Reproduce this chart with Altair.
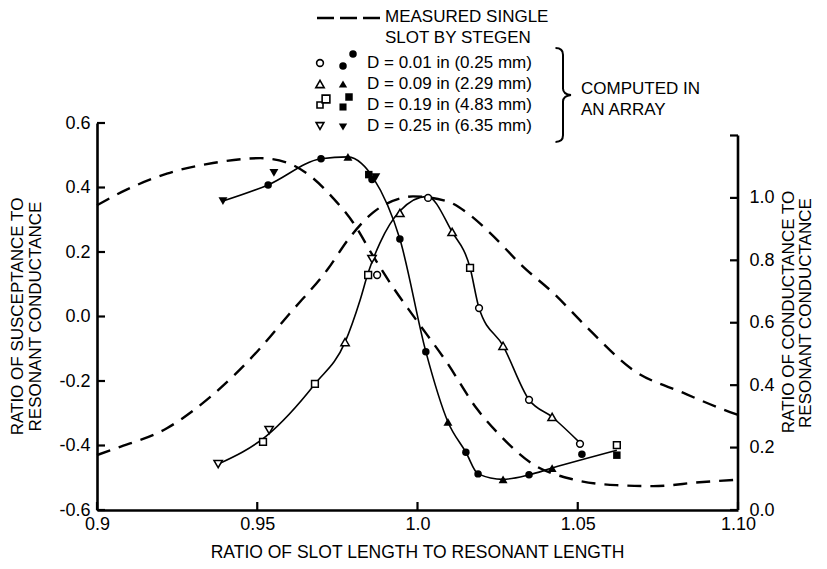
import json
import altair as alt
import pandas as pd

# ---------------- data ----------------
x_ticks = [0.9, 0.95, 1.0, 1.05, 1.10]
x_tick_labels = ["0.9", "0.95", "1.0", "1.05", "1.10"]
left_ticks = [-0.6, -0.4, -0.2, 0.0, 0.2, 0.4, 0.6]
right_ticks = [0.0, 0.2, 0.4, 0.6, 0.8, 1.0, 1.2]
right_labels = [0.0, 0.2, 0.4, 0.6, 0.8, 1.0]

# measured single slot (Stegen) - susceptance (left axis)
meas_b_x = [0.900, 0.9094, 0.9218, 0.9362, 0.951, 0.9593, 0.9665, 0.9736, 0.980,
            0.986, 0.9924, 0.9992, 1.009, 1.0186, 1.0257, 1.036, 1.0485, 1.062,
            1.0735, 1.088, 1.100]
meas_b_y = [0.345, 0.394, 0.443, 0.476, 0.491, 0.477, 0.436, 0.368, 0.290,
            0.190, 0.090, -0.005, -0.140, -0.287, -0.368, -0.458, -0.505, -0.523,
            -0.526, -0.514, -0.506]

# measured single slot (Stegen) - conductance (right axis)
meas_g_x = [0.900, 0.906, 0.9218, 0.936, 0.950, 0.960, 0.9718, 0.979, 0.986,
            0.9945, 0.9986, 1.009, 1.0155, 1.0226, 1.033, 1.0423, 1.0529, 1.0672,
            1.083, 1.0975, 1.100]
meas_g_y = [0.176, 0.198, 0.262, 0.368, 0.508, 0.628, 0.769, 0.875, 0.952,
            0.998, 1.005, 0.990, 0.952, 0.888, 0.779, 0.696, 0.585, 0.449,
            0.375, 0.314, 0.305]

# computed in an array - conductance curve (right axis)
comp_g_x = [0.9378, 0.9528, 0.968, 0.9774, 0.9821, 0.9846, 0.9883, 0.9945, 1.0030,
            1.0108, 1.0164, 1.0192, 1.0267, 1.0348, 1.042, 1.0507]
comp_g_y = [0.147, 0.237, 0.404, 0.538, 0.673, 0.760, 0.856, 0.958, 1.005,
            0.891, 0.776, 0.647, 0.526, 0.353, 0.298, 0.215]

# computed in an array - susceptance curve (left axis)
comp_b_x = [0.9393, 0.9534, 0.9699, 0.9783, 0.9825, 0.9862, 0.9945, 1.0026, 1.0095,
            1.0151, 1.0189, 1.0267, 1.0348, 1.042, 1.0622]
comp_b_y = [0.358, 0.408, 0.489, 0.495, 0.475, 0.430, 0.240, -0.109, -0.327,
            -0.421, -0.488, -0.505, -0.491, -0.470, -0.415]

# open symbols (conductance, right axis)
open_x = [0.9378, 0.9518, 0.9537, 0.968, 0.9774, 0.9846, 0.9874, 0.9858, 0.9945,
          1.0033, 1.0108, 1.0164, 1.0192, 1.0267, 1.0348, 1.042, 1.0507, 1.0622]
open_y = [0.147, 0.218, 0.256, 0.404, 0.538, 0.753, 0.753, 0.804, 0.952,
          1.000, 0.891, 0.776, 0.647, 0.526, 0.353, 0.298, 0.212, 0.208]
open_d = ["0.25", "0.19", "0.25", "0.19", "0.09", "0.19", "0.01", "0.25", "0.09",
          "0.01", "0.09", "0.19", "0.01", "0.09", "0.01", "0.09", "0.01", "0.19"]

# filled symbols (susceptance, left axis)
fill_x = [0.9393, 0.9534, 0.9552, 0.9699, 0.9783, 0.9848, 0.9858, 0.9870, 0.9945,
          1.0026, 1.0095, 1.0151, 1.0189, 1.0267, 1.0348, 1.042, 1.0513, 1.0622]
fill_y = [0.358, 0.408, 0.445, 0.489, 0.495, 0.440, 0.425, 0.432, 0.240,
          -0.109, -0.327, -0.421, -0.488, -0.505, -0.491, -0.470, -0.427, -0.430]
fill_d = ["0.25", "0.01", "0.25", "0.01", "0.09", "0.19", "0.01", "0.25", "0.01",
          "0.01", "0.09", "0.01", "0.01", "0.09", "0.01", "0.09", "0.01", "0.19"]

d_values = ["0.01", "0.09", "0.19", "0.25"]
d_labels = ["D = 0.01 in (0.25 mm)", "D = 0.09 in (2.29 mm)",
            "D = 0.19 in (4.83 mm)", "D = 0.25 in (6.35 mm)"]
d_shapes = ["circle", "triangle-up", "square", "triangle-down"]
d_sizes = [46, 70, 46, 70]

measured_text = ["MEASURED SINGLE", "SLOT BY STEGEN"]
computed_text = ["COMPUTED IN", "AN ARRAY"]
x_title = "RATIO OF SLOT LENGTH TO RESONANT LENGTH"
left_title = ["RATIO OF SUSCEPTANCE TO", "RESONANT CONDUCTANCE"]
right_title = ["RATIO OF CONDUCTANCE TO", "RESONANT CONDUCTANCE"]

# ---------------- layout / style ----------------
W, H = 641, 387
FONT = "Liberation Sans"
FS = 17
size_of = dict(zip(d_values, d_sizes))

xsc = alt.Scale(domain=[0.9, 1.1], nice=False, zero=False)
ylsc = alt.Scale(domain=[-0.6, 0.6], nice=False, zero=False)
yrsc = alt.Scale(domain=[0.0, 1.24], nice=False, zero=False)

x_label_expr = "{}[indexof({}, datum.value)]".format(json.dumps(x_tick_labels), json.dumps(x_ticks))
X = alt.X("x:Q", scale=xsc, axis=alt.Axis(
    values=x_ticks, labelExpr=x_label_expr, ticks=False, grid=False,
    domainColor="black", domainWidth=2.6, labelFont=FONT, labelFontSize=18,
    labelColor="black", labelPadding=5, labelFlush=False, title=None))
XN = alt.X("x:Q", scale=xsc, axis=None)
YL = alt.Y("y:Q", scale=ylsc, axis=alt.Axis(
    orient="left", values=left_ticks,
    labelExpr="replace(format(datum.value, '.1f'), '\u2212', '-')",
    ticks=False, grid=False, domainColor="black", domainWidth=2.6,
    labelFont=FONT, labelFontSize=18, labelColor="black", labelPadding=7, title=None))
YR = alt.Y("y:Q", scale=yrsc, axis=alt.Axis(
    orient="right", values=right_labels, format=".1f", ticks=False, domain=False,
    grid=False, labelFont=FONT, labelFontSize=18, labelColor="black",
    labelPadding=11, title=None))
SHP = alt.Shape("d:N", scale=alt.Scale(domain=d_values, range=d_shapes), legend=None)
SZ = alt.Size("sz:Q", scale=None)

dash = [14, 9]

# ---------------- left (susceptance) group ----------------
meas_b = pd.DataFrame({"x": meas_b_x, "y": meas_b_y})
comp_b = pd.DataFrame({"x": comp_b_x, "y": comp_b_y})
fill_pts = pd.DataFrame({"x": fill_x, "y": fill_y, "d": fill_d,
                         "sz": [size_of[d] + 10 for d in fill_d]})

l_meas = alt.Chart(meas_b).mark_line(color="black", strokeWidth=2.4, strokeDash=dash,
                                     interpolate="monotone").encode(x=X, y=YL)
l_comp = alt.Chart(comp_b).mark_line(color="black", strokeWidth=1.6,
                                     interpolate="monotone").encode(x=X, y=YL)
l_pts = alt.Chart(fill_pts).mark_point(filled=True, color="black", opacity=1).encode(
    x=X, y=YL, shape=SHP, size=SZ)
l_ticks = alt.Chart(pd.DataFrame({"y": left_ticks})).mark_rule(
    color="black", strokeWidth=2.2).encode(y=YL, x=alt.value(0), x2=alt.value(8))
b_ticks = alt.Chart(pd.DataFrame({"x": x_ticks})).mark_rule(
    color="black", strokeWidth=2.2).encode(x=X, y=alt.value(H), y2=alt.value(H - 8))
left_group = alt.layer(l_meas, l_comp, l_pts, l_ticks, b_ticks)

# ---------------- right (conductance) group ----------------
meas_g = pd.DataFrame({"x": meas_g_x, "y": meas_g_y})
comp_g = pd.DataFrame({"x": comp_g_x, "y": comp_g_y})
open_pts = pd.DataFrame({"x": open_x, "y": open_y, "d": open_d,
                         "sz": [size_of[d] for d in open_d]})

r_meas = alt.Chart(meas_g).mark_line(color="black", strokeWidth=2.4, strokeDash=dash,
                                     interpolate="monotone").encode(x=XN, y=YR)
r_comp = alt.Chart(comp_g).mark_line(color="black", strokeWidth=1.6,
                                     interpolate="monotone").encode(x=XN, y=YR)
r_pts = alt.Chart(open_pts).mark_point(filled=True, fill="white", stroke="black",
                                       strokeWidth=1.5, opacity=1).encode(
    x=XN, y=YR, shape=SHP, size=SZ)
r_axis = alt.Chart(pd.DataFrame({"y": [right_ticks[0]], "y2": [right_ticks[-1]]})).mark_rule(
    color="black", strokeWidth=2.6).encode(x=alt.value(W), y=YR, y2="y2:Q")
r_ticks = alt.Chart(pd.DataFrame({"y": right_ticks})).mark_rule(
    color="black", strokeWidth=2.2).encode(y=YR, x=alt.value(W - 8), x2=alt.value(W))
right_group = alt.layer(r_meas, r_comp, r_pts, r_axis, r_ticks)

# ---------------- annotations (titles, legend) ----------------
PX = alt.X("px:Q", scale=None)
PY = alt.Y("py:Q", scale=None)

row_y = [-60, -39, -18, 3]
texts = pd.DataFrame({
    "text": measured_text + d_labels + computed_text,
    "px": [288, 288] + [270] * 4 + [484, 484],
    "py": [-106, -85] + row_y + [-34, -13],
})
a_text = alt.Chart(texts).mark_text(align="left", baseline="middle", font=FONT,
                                    fontSize=FS, color="black").encode(x=PX, y=PY, text="text:N")

xt = pd.DataFrame({"text": [x_title], "px": [W / 2], "py": [430]})
a_xt = alt.Chart(xt).mark_text(align="center", baseline="middle", font=FONT,
                               fontSize=17.5, color="black").encode(x=PX, y=PY, text="text:N")

yt = pd.DataFrame({"text": left_title + right_title,
                   "px": [-79, -61, 692, 709],
                   "py": [H / 2, H / 2, 189, 190]})
a_yt = alt.Chart(yt).mark_text(align="center", baseline="middle", font=FONT, angle=270,
                               fontSize=FS, color="black").encode(x=PX, y=PY, text="text:N")

leg_open = pd.DataFrame({"d": d_values + ["0.19"],
                         "px": [223, 223, 223, 223, 229],
                         "py": row_y + [-24],
                         "sz": d_sizes[:2] + [36, 60, 60]})
leg_fill = pd.DataFrame({"d": d_values + ["0.01", "0.19"],
                         "px": [246, 246, 246, 246, 256, 252],
                         "py": [-57, -39, -16, 4, -69, -26],
                         "sz": [56, 70, 50, 70, 56, 56]})
a_lo = alt.Chart(leg_open).mark_point(filled=True, fill="white", stroke="black",
                                      strokeWidth=1.6, opacity=1).encode(
    x=PX, y=PY, shape=SHP, size=SZ)
a_lf = alt.Chart(leg_fill).mark_point(filled=True, color="black", opacity=1).encode(
    x=PX, y=PY, shape=SHP, size=SZ)

one = pd.DataFrame({"a": [0]})
a_dash = alt.Chart(one).mark_rule(color="black", strokeWidth=2.4, strokeDash=[17, 6]).encode(
    x=alt.value(220), x2=alt.value(287), y=alt.value(-105))
BRACE = ("M -0.16 -1 Q 0 -1 0 -0.86 L 0 -0.14 Q 0 -0.02 0.17 0 "
         "Q 0 0.02 0 0.14 L 0 0.86 Q 0 1 -0.16 1")
a_brace = alt.Chart(one).mark_point(shape=BRACE, size=8800, filled=False, color="black",
                                    strokeWidth=2, opacity=1).encode(
    x=alt.value(466), y=alt.value(-28))

annot = alt.layer(a_text, a_xt, a_yt, a_lo, a_lf, a_dash, a_brace)

chart = (
    alt.layer(left_group, right_group, annot)
    .resolve_scale(x="independent", y="independent")
    .properties(width=W, height=H,
                padding={"left": 89, "top": 115, "right": 81, "bottom": 51},
                autosize=alt.AutoSizeParams(type="none"))
    .configure_view(stroke=None)
)

chart.save("out.html", embed_options={"renderer": "svg", "actions": False})
